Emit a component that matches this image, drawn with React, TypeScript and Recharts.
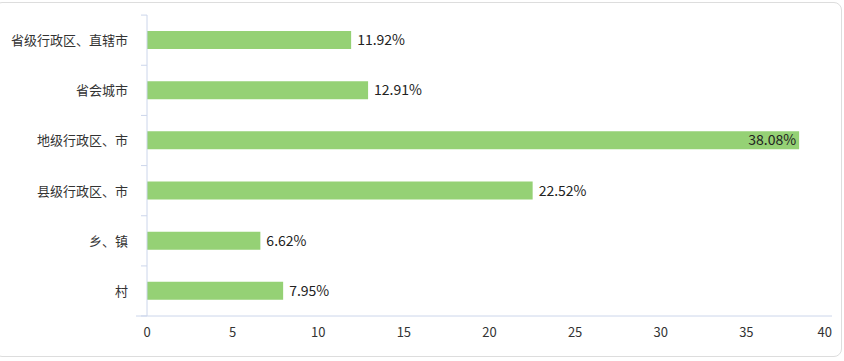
import { BarChart, Bar, XAxis, YAxis, LabelList } from 'recharts'

const categories = ['省级行政区、直辖市', '省会城市', '地级行政区、市', '县级行政区、市', '乡、镇', '村']
const shares = [11.92, 12.91, 38.08, 22.52, 6.62, 7.95]
const xTicks = [0, 5, 10, 15, 20, 25, 30, 35, 40]

const data = categories.map((name, i) => ({ name, value: shares[i] }))

const WIDTH = 844
const HEIGHT = 361
const FONT = '"Microsoft YaHei", "Noto Sans CJK SC", sans-serif'
const AXIS_COLOR = '#ccd6eb'
const HALF_BAND = 25

const CategoryTick = (props: any) => {
  const { x, y, payload, index } = props
  const last = index === categories.length - 1
  return (
    <g>
      <line x1={x + 13} x2={x + 19} y1={y - HALF_BAND} y2={y - HALF_BAND} stroke={AXIS_COLOR} />
      {last && <line x1={x + 13} x2={x + 19} y1={y + HALF_BAND} y2={y + HALF_BAND} stroke={AXIS_COLOR} />}
      <text x={x} y={y} dy={5} textAnchor="end" fill="#333" fontSize={13} fontFamily={FONT}>
        {payload.value}
      </text>
    </g>
  )
}

const ValueTick = (props: any) => {
  const { x, y, payload, index } = props
  const last = index === xTicks.length - 1
  return (
    <g>
      {index === 0 && <line x1={x - 11} x2={x} y1={y} y2={y} stroke={AXIS_COLOR} />}
      <text
        x={x}
        y={y}
        dy={21}
        textAnchor={last ? 'end' : 'middle'}
        fill="#333"
        fontSize={13}
        fontFamily={FONT}
      >
        {payload.value}
      </text>
    </g>
  )
}

const ValueLabel = (props: any) => {
  const { x, y, width, height, value } = props
  const text = `${value.toFixed(2)}%`
  const end = x + width
  const inside = end + 60 > WIDTH
  return (
    <text
      x={inside ? end - 3 : end + 6}
      y={y + height / 2}
      dy={5}
      textAnchor={inside ? 'end' : 'start'}
      fill="#222"
      fontSize={14}
      fontFamily={FONT}
    >
      {text}
    </text>
  )
}

export default function App() {
  return (
    <div style={{ position: 'fixed', left: 0, top: 0, width: WIDTH, height: HEIGHT, background: '#fff' }}>
      <div
        style={{
          position: 'absolute',
          left: -6,
          top: 2,
          width: 848,
          height: 355,
          border: '1px solid #dddddd',
          borderRadius: 8,
          boxSizing: 'border-box',
        }}
      />
      <div style={{ position: 'absolute', left: 0, top: 0 }}>
        <BarChart
          width={WIDTH}
          height={HEIGHT}
          data={data}
          layout="vertical"
          margin={{ top: 15, right: 12, bottom: 15, left: 0 }}
        >
          <XAxis
            type="number"
            domain={[0, 40]}
            ticks={xTicks}
            interval={0}
            height={30}
            axisLine={{ stroke: AXIS_COLOR }}
            tickLine={false}
            tickSize={0}
            tickMargin={0}
            tick={<ValueTick />}
          />
          <YAxis
            type="category"
            dataKey="name"
            width={147}
            axisLine={{ stroke: AXIS_COLOR }}
            tickLine={false}
            tickSize={6}
            tickMargin={13}
            interval={0}
            tick={<CategoryTick />}
          />
          <Bar dataKey="value" fill="#95d175" barSize={18} isAnimationActive={false}>
            <LabelList dataKey="value" content={<ValueLabel />} />
          </Bar>
        </BarChart>
      </div>
    </div>
  )
}
